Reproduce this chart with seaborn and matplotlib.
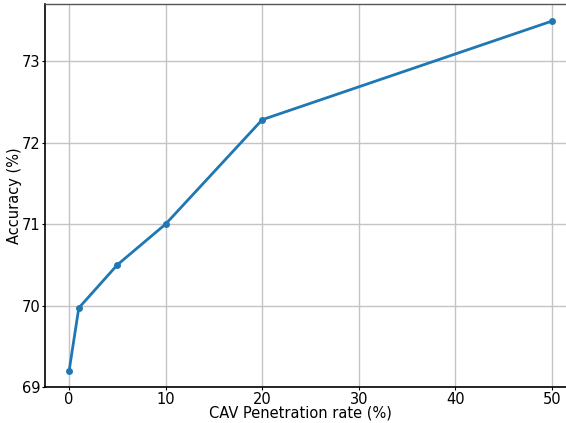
import matplotlib
matplotlib.use("Agg")
import matplotlib.pyplot as plt
import seaborn as sns
import pandas as pd

penetration = [0, 1, 5, 10, 20, 50]
accuracy = [69.2, 69.97, 70.5, 71.0, 72.28, 73.49]

sns.set_style("ticks")
plt.rcParams['font.family'] = ['DejaVu Sans']
plt.rcParams['text.color'] = 'black'
plt.rcParams['axes.labelcolor'] = 'black'

df = pd.DataFrame({"CAV Penetration rate (%)": penetration, "Accuracy (%)": accuracy})

fig = plt.figure(figsize=(5.66, 4.23), dpi=100)
ax = fig.add_axes([45/566, (423-387)/423, (576-45)/566, (387-4)/423])
sns.lineplot(data=df, x="CAV Penetration rate (%)", y="Accuracy (%)", ax=ax,
             marker="o", markersize=5, markeredgewidth=0, linewidth=2, color="#1f77b4")
ax.set_xlim(-2.5, 52.5)
ax.set_ylim(69, 73.7)
ax.set_xticks([0, 10, 20, 30, 40, 50])
ax.set_yticks([69, 70, 71, 72, 73])
ax.grid(True, color="#c4c4c4", linewidth=1.0)
ax.set_axisbelow(True)
ax.tick_params(labelsize=10.5, colors="black", direction="out", length=2, pad=1.5)
ax.set_xlabel("CAV Penetration rate (%)", fontsize=10.5, color="black")
ax.set_ylabel("Accuracy (%)", fontsize=10.5, color="black")
ax.xaxis.set_label_coords((300 - 45) / 531, (387 - 405.5) / 383)
ax.yaxis.set_label_coords((22 - 45) / 531, 0.5)
for s in ["left", "bottom"]:
    ax.spines[s].set_color("black")
    ax.spines[s].set_linewidth(1.2)
ax.spines["top"].set_color("#555555")
ax.spines["top"].set_linewidth(1.0)
fig.savefig("out.png", dpi=100)
